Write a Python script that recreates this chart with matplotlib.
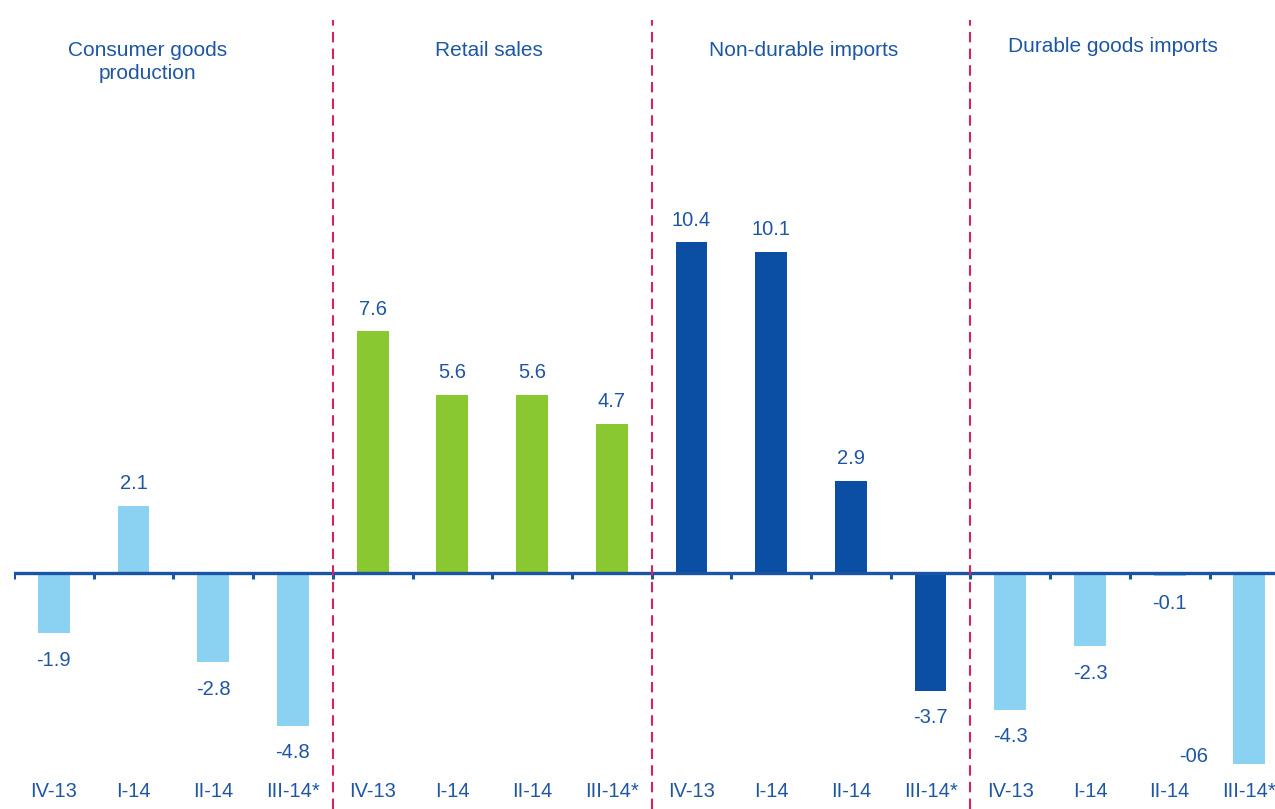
import matplotlib
matplotlib.use("Agg")
import matplotlib.pyplot as plt
import numpy as np

plt.rcParams['font.family'] = ['Liberation Sans', 'DejaVu Sans']

groups = ["Consumer goods\nproduction", "Retail sales", "Non-durable imports", "Durable goods imports"]
quarters = ["IV-13", "I-14", "II-14", "III-14*"]
consumer_goods = [-1.9, 2.1, -2.8, -4.8]
retail_sales = [7.6, 5.6, 5.6, 4.7]
nondurable_imports = [10.4, 10.1, 2.9, -3.7]
durable_imports = [-4.3, -2.3, -0.1, -6.0]
value_labels = ["-1.9", "2.1", "-2.8", "-4.8",
                "7.6", "5.6", "5.6", "4.7",
                "10.4", "10.1", "2.9", "-3.7",
                "-4.3", "-2.3", "-0.1", "-06"]

series = [consumer_goods, retail_sales, nondurable_imports, durable_imports]
colors = ['#8BD2F2', '#8AC832', '#0A4FA3', '#8BD2F2']
text_color = '#1E56A3'
axis_color = '#1A55A5'
dash_color = '#D6225F'

W, H = 1275, 809
fig = plt.figure(figsize=(W / 100, H / 100), dpi=100)
px_per_unit = 31.8
zero_px = 573
ax_bottom_px = 776
left_px = 14
cat_px = 79.7
ax = fig.add_axes([left_px / W, (H - ax_bottom_px) / H, 16 * cat_px / W, ax_bottom_px / H])
ax.set_ylim(-(ax_bottom_px - zero_px) / px_per_unit, zero_px / px_per_unit)
ax.set_xlim(-0.5, 15.5)
for s in ax.spines.values():
    s.set_visible(False)
ax.set_yticks([])

vals = np.concatenate(series)
xs = np.arange(len(vals))
bar_colors = [c for c in colors for _ in range(4)]
ax.bar(xs, vals, width=0.4, color=bar_colors, zorder=2)

# zero axis line and ticks
ax.axhline(0, color=axis_color, lw=2.4, zorder=3)
for b in np.arange(-0.5, 16, 1.0):
    ax.plot([b, b], [0, -0.19], color=axis_color, lw=2.2, zorder=3, solid_capstyle='butt')

# tick labels
ax.set_xticks(xs)
ax.set_xticklabels(quarters * 4, fontsize=14.5, color=text_color)
ax.tick_params(axis='x', length=0, pad=4)

# value labels
for i, (x, v, lab) in enumerate(zip(xs, vals, value_labels)):
    if lab == "-06":
        ax.annotate(lab, (x, v), xytext=(-40, 5), textcoords='offset points',
                    ha='center', va='center', fontsize=14.5, color=text_color)
    elif v >= 0:
        ax.annotate(lab, (x, v), xytext=(0, 16), textcoords='offset points',
                    ha='center', va='center', fontsize=14.5, color=text_color)
    else:
        ax.annotate(lab, (x, v), xytext=(0, -19.5), textcoords='offset points',
                    ha='center', va='center', fontsize=14.5, color=text_color)

# dashed separators
y_top = (zero_px - 20) / px_per_unit
y_bot = -(H - zero_px) / px_per_unit
for b in [3.5, 7.5, 11.5]:
    ax.plot([b, b], [y_bot, y_top], color=dash_color, lw=1.5, ls=(0, (5, 3)),
            clip_on=False, zorder=4)

# group titles
title_x = [1.18, 5.46, 9.41, 13.29]
title_y = [(zero_px - 62) / px_per_unit, (zero_px - 50) / px_per_unit,
           (zero_px - 50) / px_per_unit, (zero_px - 47) / px_per_unit]
for t, x, y in zip(groups, title_x, title_y):
    ax.text(x, y, t, ha='center', va='center', fontsize=15, color=text_color, linespacing=1.3)

fig.savefig("out.png", dpi=100)
